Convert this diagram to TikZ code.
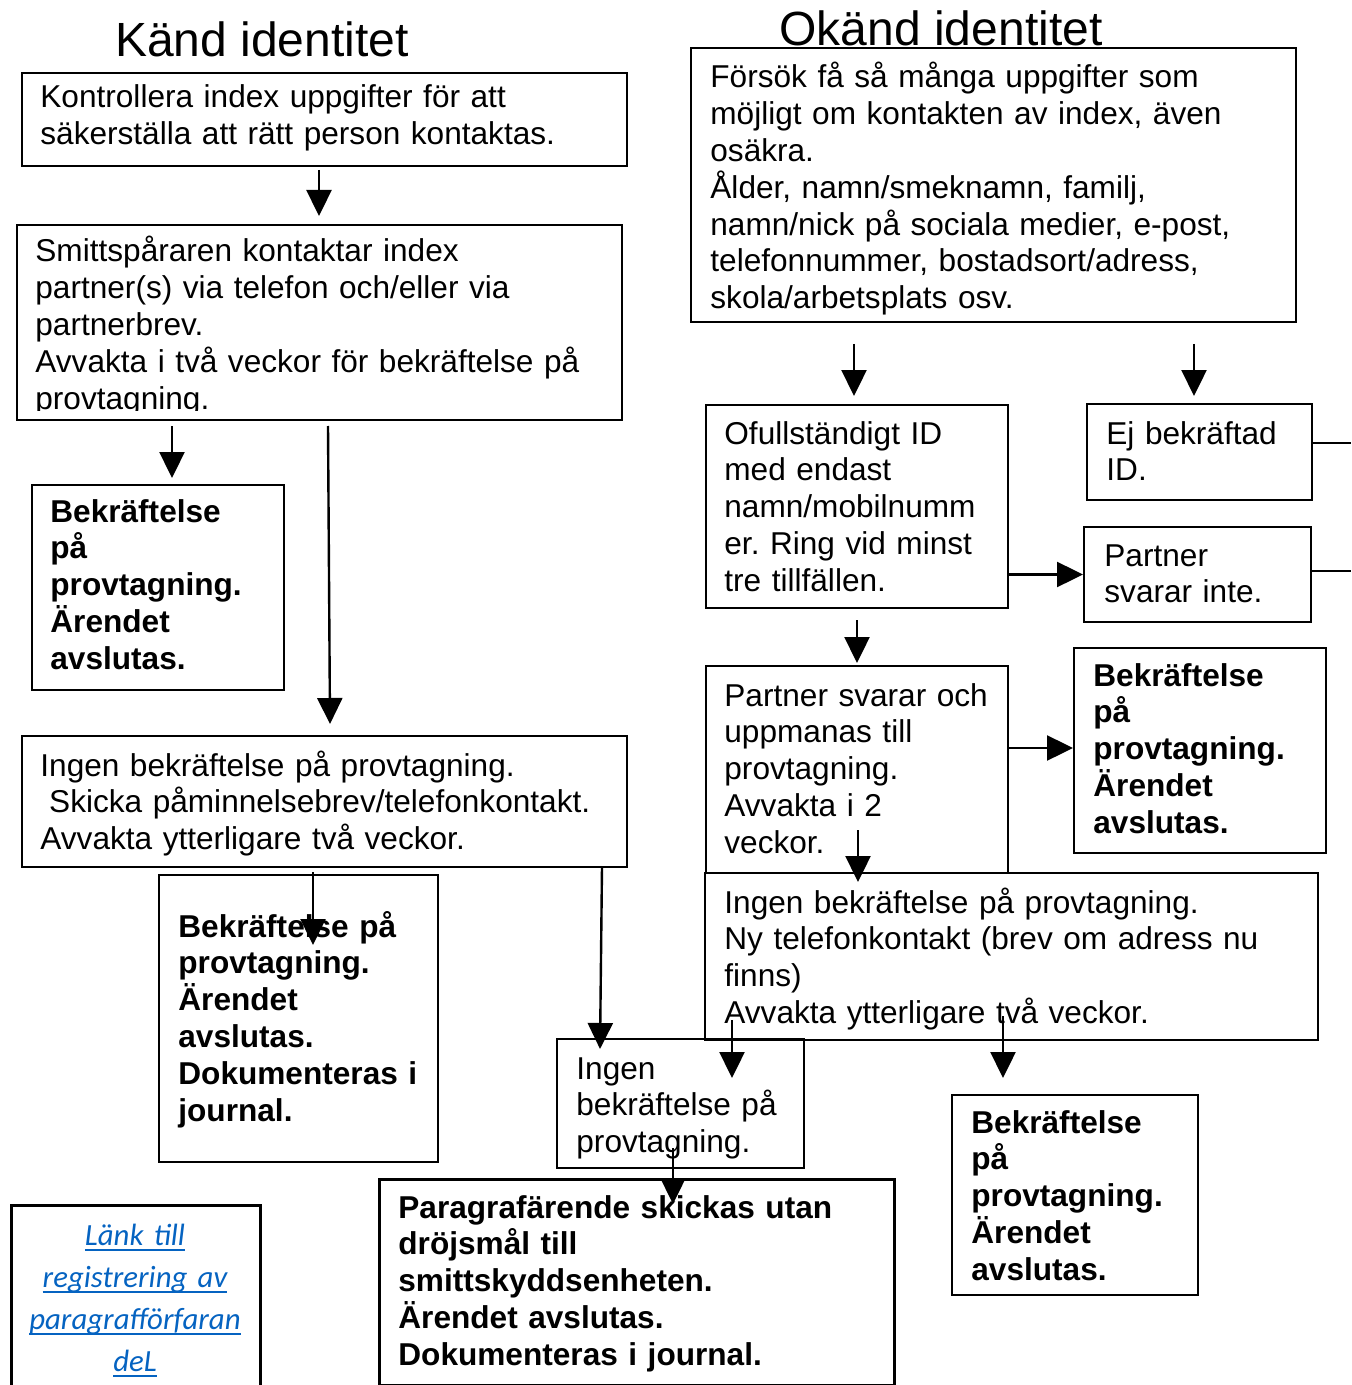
\documentclass[tikz,border=0pt]{standalone}
\usepackage{fontspec}
\setmainfont{Liberation Sans}
\newfontfamily\linkfont{Carlito}
\usetikzlibrary{arrows.meta}
\definecolor{linkblue}{RGB}{5,99,193}
\newcommand\ulink[1]{\leavevmode\setbox0\hbox{#1}\rlap{\rule[-3pt]{\wd0}{0.9pt}}\box0}
\frenchspacing

\begin{document}
\begin{tikzpicture}[
    x=0.5pt, y=-0.5pt,
    box/.style={rectangle, draw=black, line width=1pt, anchor=north west,
        inner sep=0pt},
    boxsize/.style 2 args={minimum width=#1*0.5pt, minimum height=#2*0.5pt},
    txt/.style={anchor=base west, align=left, inner sep=0pt, text width=300pt,
        font=\fontsize{15.8}{18.4}\selectfont},
    boldtxt/.style={txt, font=\fontsize{15.8}{18.4}\selectfont\bfseries},
    heading/.style={anchor=base, inner sep=0pt,
        font=\fontsize{24}{28}\selectfont},
    arr/.style={-{Triangle[length=13pt,width=12.5pt]}, line width=1.2pt}]

\useasboundingbox (0,0) rectangle (1351,1385);

% Kand identitet
\node (Head01) [heading] at (262,57) {Känd identitet};

\node (Kand01) [box, boxsize={605}{93}] at (21,72) {};
\node (Kand01t) [txt] at (40,108) {Kontrollera index uppgifter för att\\
    säkerställa att rätt person kontaktas.};

\node (Kand02) [box, boxsize={605}{195}] at (16,224) {};
\begin{scope}
    \clip (16,224) rectangle (621,410);
    \node (Kand02t) [txt] at (35,262) {Smittspåraren kontaktar index\\
        partner(s) via telefon och/eller via\\
        partnerbrev.\\
        Avvakta i två veckor för bekräftelse på\\
        provtagning.};
\end{scope}

\node (Kand03) [box, boxsize={252}{205}] at (31,484) {};
\node (Kand03t) [boldtxt] at (50,522) {Bekräftelse\\på\\provtagning.\\Ärendet\\avslutas.};

\node (Kand04) [box, boxsize={605}{131}] at (21,735) {};
\node (Kand04t) [txt] at (40,776) {Ingen bekräftelse på provtagning.\\
    \hspace*{4.4pt}Skicka påminnelsebrev/telefonkontakt.\\
    Avvakta ytterligare två veckor.};

\node (Kand05) [box, boxsize={279}{287}] at (158,874) {};
\node (Kand05t) [boldtxt] at (178,937) {Bekräftelse på\\provtagning.\\Ärendet\\
    avslutas.\\Dokumenteras i\\journal.};

\node (Kand06) [box, boxsize={247}{129}] at (556,1038) {};
\node (Kand06t) [txt] at (576,1079) {Ingen\\bekräftelse på\\provtagning.};

\node (Kand07) [box, line width=1.3pt, boxsize={515}{206}] at (378,1178) {};
\node (Kand07t) [boldtxt] at (398,1218) {Paragrafärende skickas utan\\
    dröjsmål till\\smittskyddsenheten.\\Ärendet avslutas.\\
    Dokumenteras i journal.};

\node (Lank01) [box, line width=1.3pt, boxsize={249}{190}] at (10,1204) {};
\node (Lank01t) [anchor=base, align=center, inner sep=0pt, text=linkblue,
    text width=120pt, font=\linkfont\itshape\fontsize{15.4}{21}\selectfont]
    at (135,1245)
    {\ulink{Länk till}\\\ulink{registrering av}\\\ulink{paragrafförfaran}\\\ulink{deL}};

% Okand identitet
\node (Okand01) [box, boxsize={605}{274}] at (690,47) {};
\node (Head02) [heading] at (941,46) {Okänd identitet};
\node (Okand01t) [txt] at (710,88) {Försök få så många uppgifter som\\
    möjligt om kontakten av index, även\\
    osäkra.\\
    Ålder, namn/smeknamn, familj,\\
    namn/nick på sociala medier, e-post,\\
    telefonnummer, bostadsort/adress,\\
    skola/arbetsplats osv.};

\node (Okand02) [box, boxsize={302}{203}] at (705,404) {};
\node (Okand02t) [txt] at (724,444) {Ofullständigt ID\\med endast\\
    namn/mobilnumm\\er. Ring vid minst\\tre tillfällen.};

\node (Okand03) [box, boxsize={225}{96}] at (1086,403) {};
\node (Okand03t) [txt] at (1106,444) {Ej bekräftad\\ID.};

\node (Okand04) [box, boxsize={227}{95}] at (1083,526) {};
\node (Okand04t) [txt] at (1104,566) {Partner\\svarar inte.};

\node (Okand05) [box, boxsize={302}{207}] at (705,665) {};
\node (Okand05t) [txt] at (724,706) {Partner svarar och\\uppmanas till\\
    provtagning.\\Avvakta i 2\\veckor.};

\node (Okand06) [box, boxsize={252}{205}] at (1073,647) {};
\node (Okand06t) [boldtxt] at (1093,686) {Bekräftelse\\på\\provtagning.\\Ärendet\\avslutas.};

\node (Okand07) [box, boxsize={613}{167}] at (704,872) {};
\node (Okand07t) [txt] at (724,913) {Ingen bekräftelse på provtagning.\\
    Ny telefonkontakt (brev om adress nu\\finns)\\
    Avvakta ytterligare två veckor.};

\node (Okand08) [box, boxsize={246}{200}] at (951,1094) {};
\node (Okand08t) [boldtxt] at (971,1133) {Bekräftelse\\på\\provtagning.\\Ärendet\\avslutas.};

% pilar
\coordinate (p01s) at (319,170);  \coordinate (p01e) at (319,216);
\coordinate (p02s) at (172,426);  \coordinate (p02e) at (172,478);
\coordinate (p03s) at (328,426);  \coordinate (p03e) at (330,724);
\coordinate (p04s) at (313,872);  \coordinate (p04e) at (313,945);
\coordinate (p05s) at (602,866);  \coordinate (p05e) at (600,1049);
\coordinate (p06s) at (732,1020); \coordinate (p06e) at (732,1078);
\coordinate (p07s) at (673,1148); \coordinate (p07e) at (673,1204);
\coordinate (p08s) at (854,344);  \coordinate (p08e) at (854,396);
\coordinate (p09s) at (1194,344); \coordinate (p09e) at (1194,396);
\coordinate (p10s) at (857,620);  \coordinate (p10e) at (857,663);
\coordinate (p11s) at (858,830);  \coordinate (p11e) at (858,882);
\coordinate (p12s) at (1003,1016); \coordinate (p12e) at (1003,1078);
\coordinate (Kant01) at (1351,443);
\coordinate (Kant02) at (1351,571);

\draw[arr] (p01s) -- (p01e);
\draw[arr] (p02s) -- (p02e);
\draw[arr] (p03s) -- (p03e);
\draw[arr] (p04s) -- (p04e);
\draw[arr] (p05s) -- (p05e);
\draw[arr] (p06s) -- (p06e);
\draw[arr] (p07s) -- (p07e);
\draw[arr] (p08s) -- (p08e);
\draw[arr] (p09s) -- (p09e);
\draw[arr] (p10s) -- (p10e);
\draw[arr] (p11s) -- (p11e);
\draw[arr] (p12s) -- (p12e);
\draw[arr] (Okand02.east |- Okand04.west) -- (Okand04.west);
\draw[arr] (Okand05.east |- 0,748) -- (Okand06.west |- 0,748);
\draw[line width=1.2pt] (Okand03.east |- Kant01) -- (Kant01);
\draw[line width=1.2pt] (Okand04.east |- Kant02) -- (Kant02);

\end{tikzpicture}
\end{document}
